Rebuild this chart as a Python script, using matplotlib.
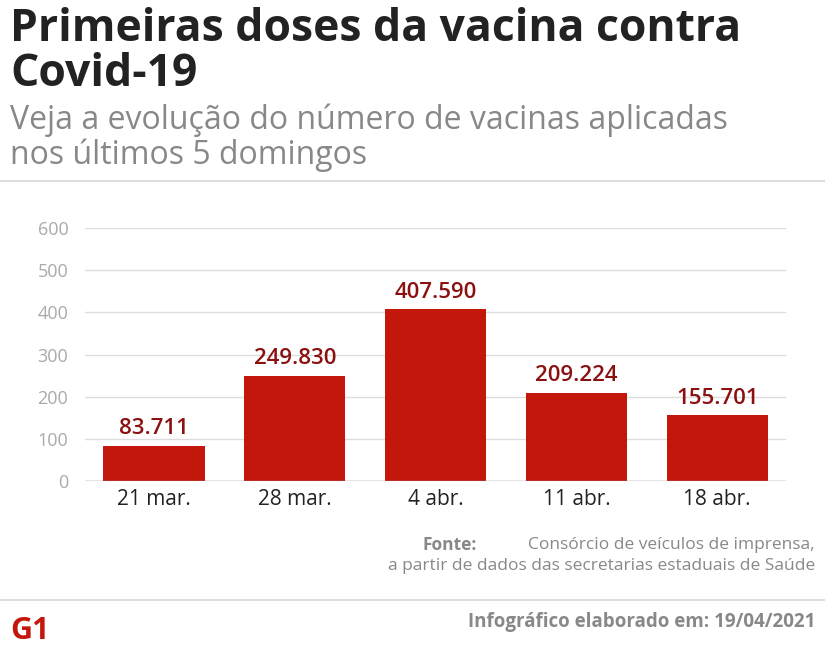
import matplotlib.pyplot as plt

datas = ["21 mar.", "28 mar.", "4 abr.", "11 abr.", "18 abr."]
doses = [83.711, 249.830, 407.590, 209.224, 155.701]
rotulos = ["83.711", "249.830", "407.590", "209.224", "155.701"]
yticks = [0, 100, 200, 300, 400, 500, 600]

plt.rcParams['font.family'] = ['Open Sans', 'DejaVu Sans']

fig = plt.figure(figsize=(8.25, 6.67), dpi=100)
ax = fig.add_axes([0.103, 0.279, 0.85, 0.379])

ax.bar(range(len(datas)), doses, width=0.72, color='#c4170c', zorder=3)
for i, (v, t) in enumerate(zip(doses, rotulos)):
    ax.text(i, v + 15, t, ha='center', va='bottom', fontsize=16,
            fontweight='semibold', color='#8b1010')

ax.set_ylim(0, 600)
ax.set_xlim(-0.49, 4.49)
ax.set_yticks(yticks)
ax.set_xticks(range(len(datas)))
ax.set_xticklabels(datas, fontsize=15, color='#222222')
ax.tick_params(axis='y', length=0, labelsize=13, labelcolor='#aaaaaa', pad=12)
ax.tick_params(axis='x', length=0, pad=6)
ax.grid(axis='y', color='#dddddd', lw=1, zorder=0)
for s in ax.spines.values():
    s.set_visible(False)
ax.axhline(0, color='#999999', lw=1, zorder=4)

fig.text(0.012, 0.99, "Primeiras doses da vacina contra\nCovid-19", fontsize=32,
         fontweight='bold', color='#222222', va='top', linespacing=1.0)
fig.text(0.012, 0.845, "Veja a evolução do número de vacinas aplicadas\nnos últimos 5 domingos",
         fontsize=23, fontweight='medium', color='#888888', va='top', linespacing=1.05)

fig.add_artist(plt.Line2D([0, 1], [0.729, 0.729], color='#dddddd', lw=1.5))
fig.add_artist(plt.Line2D([0, 1], [0.1, 0.1], color='#dddddd', lw=1.5))

fig.text(0.988, 0.183, "Consórcio de veículos de imprensa,", fontsize=12.5,
         color='#888888', ha='right', va='center')
fig.text(0.578, 0.183, "Fonte:", fontsize=12.5, color='#888888', ha='right',
         va='center', fontweight='bold')
fig.text(0.988, 0.151, "a partir de dados das secretarias estaduais de Saúde",
         fontsize=12.5, color='#888888', ha='right', va='center')
fig.text(0.988, 0.068, "Infográfico elaborado em: 19/04/2021", fontsize=13.5,
         color='#888888', ha='right', va='center', fontweight='bold')
fig.text(0.012, 0.054, "G1", fontsize=22, color='#c4170c', fontweight='bold', va='center')

fig.savefig("out.png", dpi=100)
